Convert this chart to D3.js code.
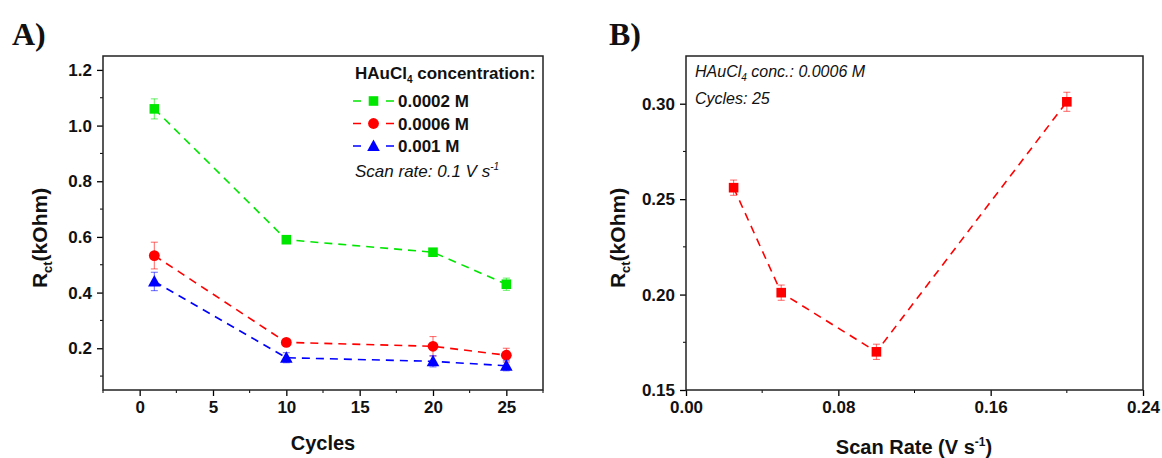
<!DOCTYPE html>
<html>
<head>
<meta charset="utf-8">
<script src="https://cdn.jsdelivr.net/npm/d3@7"></script>
<style>
  html, body { margin: 0; padding: 0; background: #fff; }
  svg { display: block; font-family: "Liberation Sans", Arial, sans-serif; }
</style>
</head>
<body>
<svg id="chart" width="1162" height="458"></svg>
<script>
// Panel A: charge-transfer resistance vs. number of deposition cycles
const cycles = [1, 10, 20, 25];
const rct0002 = [1.06, 0.59, 0.545, 0.43];
const err0002 = [0.036, 0.01, 0.01, 0.022];
const rct0006 = [0.533, 0.221, 0.207, 0.175];
const err0006 = [0.048, 0.01, 0.035, 0.025];
const rct001 = [0.44, 0.166, 0.153, 0.137];
const err001 = [0.033, 0.018, 0.02, 0.018];
const seriesNames = ["0.0002 M", "0.0006 M", "0.001 M"];

// Panel B: charge-transfer resistance vs. scan rate
const scanRates = [0.025, 0.05, 0.1, 0.2];
const rctScan = [0.256, 0.201, 0.170, 0.301];
const errScan = [0.004, 0.004, 0.004, 0.005];

// Tick values
const ticksAx = [0, 5, 10, 15, 20, 25];
const minorAx = [-2.5, 2.5, 7.5, 12.5, 17.5, 22.5, 27.5];
const ticksAy = [0.2, 0.4, 0.6, 0.8, 1.0, 1.2];
const minorAy = [0.1, 0.3, 0.5, 0.7, 0.9, 1.1];
const ticksBx = [0.00, 0.08, 0.16, 0.24];
const minorBx = [0.04, 0.12, 0.20];
const ticksBy = [0.15, 0.20, 0.25, 0.30];
const minorBy = [0.175, 0.225, 0.275];

const GREEN = "#00e600", RED = "#ff0000", BLUE = "#0000ff";
const svg = d3.select("#chart");

function frameAxes(g, x, y, xt, xm, yt, ym, xfmt, yfmt) {
  const [x0, x1] = x.range();
  const [y0, y1] = y.range();
  const xa = g.append("g").attr("transform", `translate(0,${y0})`)
    .call(d3.axisBottom(x).tickValues(xt).tickFormat(xfmt).tickSize(6).tickSizeOuter(0).tickPadding(5));
  xa.append("g").selectAll("line").data(xm).join("line")
    .attr("x1", d => x(d)).attr("x2", d => x(d)).attr("y1", 0).attr("y2", 3).attr("stroke", "#000");
  const ya = g.append("g").attr("transform", `translate(${x0},0)`)
    .call(d3.axisLeft(y).tickValues(yt).tickFormat(yfmt).tickSize(6).tickSizeOuter(0).tickPadding(5));
  ya.append("g").selectAll("line").data(ym).join("line")
    .attr("y1", d => y(d)).attr("y2", d => y(d)).attr("x1", 0).attr("x2", -3).attr("stroke", "#000");
  [xa, ya].forEach(a => {
    a.select(".domain").remove();
    a.selectAll(".tick line").attr("stroke", "#000").attr("stroke-width", 1.3);
    a.selectAll(".tick text").attr("font-size", 17).attr("font-weight", "bold")
      .attr("font-family", '"Liberation Sans", Arial, sans-serif').attr("fill", "#111");
  });
  g.append("rect").attr("x", x0).attr("y", y1).attr("width", x1 - x0).attr("height", y0 - y1)
    .attr("fill", "none").attr("stroke", "#222").attr("stroke-width", 1.5);
}

function marker(g, shape, cx, cy, color) {
  if (shape === "square") {
    g.append("rect").attr("x", cx - 4.8).attr("y", cy - 4.8).attr("width", 9.6).attr("height", 9.6).attr("fill", color);
  } else if (shape === "circle") {
    g.append("circle").attr("cx", cx).attr("cy", cy).attr("r", 5.4).attr("fill", color);
  } else {
    g.append("path").attr("d", `M${cx},${cy - 6.5} L${cx + 6.3},${cy + 5} L${cx - 6.3},${cy + 5} Z`).attr("fill", color);
  }
}

function drawSeries(g, x, y, xs, ys, es, color, shape) {
  const line = d3.line().x((d, i) => x(xs[i])).y(d => y(d));
  g.append("path").datum(ys).attr("d", line).attr("fill", "none")
    .attr("stroke", color).attr("stroke-width", 1.6).attr("stroke-dasharray", "8,6");
  ys.forEach((v, i) => {
    const cx = x(xs[i]);
    const eg = g.append("g").attr("stroke", color).attr("stroke-opacity", 0.55).attr("stroke-width", 1.1);
    eg.append("line").attr("x1", cx).attr("x2", cx).attr("y1", y(v - es[i])).attr("y2", y(v + es[i]));
    eg.append("line").attr("x1", cx - 3.5).attr("x2", cx + 3.5).attr("y1", y(v + es[i])).attr("y2", y(v + es[i]));
    eg.append("line").attr("x1", cx - 3.5).attr("x2", cx + 3.5).attr("y1", y(v - es[i])).attr("y2", y(v - es[i]));
  });
  ys.forEach((v, i) => marker(g, shape, x(xs[i]), y(v), color));
}

function yLabel(g, cx, cy) {
  const t = g.append("text").attr("transform", `translate(${cx},${cy}) rotate(-90)`)
    .attr("text-anchor", "middle").attr("font-size", 21).attr("font-weight", "bold").attr("fill", "#111");
  t.append("tspan").text("R");
  t.append("tspan").attr("font-size", 13).attr("dy", 5).text("ct");
  t.append("tspan").attr("dy", -5).text("(kOhm)");
}

// ---------- Panel A ----------
const gA = svg.append("g");
const xA = d3.scaleLinear().domain([-2.5, 27.5]).range([103, 543]);
const yA = d3.scaleLinear().domain([0.05, 1.25]).range([390, 56]);
frameAxes(gA, xA, yA, ticksAx, minorAx, ticksAy, minorAy, d3.format("d"), d3.format(".1f"));

drawSeries(gA, xA, yA, cycles, rct0002, err0002, GREEN, "square");
drawSeries(gA, xA, yA, cycles, rct0006, err0006, RED, "circle");
drawSeries(gA, xA, yA, cycles, rct001, err001, BLUE, "triangle");

gA.append("text").attr("x", 12).attr("y", 45).attr("font-family", '"Liberation Serif", "Times New Roman", serif')
  .attr("font-weight", "bold").attr("font-size", 32).attr("fill", "#111").text("A)");
yLabel(gA, 47, 238);
gA.append("text").attr("x", 323).attr("y", 450).attr("text-anchor", "middle")
  .attr("font-size", 20).attr("font-weight", "bold").attr("fill", "#111").text("Cycles");

// Legend
const lg = gA.append("g");
const title = lg.append("text").attr("x", 355).attr("y", 79).attr("font-size", 17).attr("font-weight", "bold").attr("fill", "#111");
title.append("tspan").text("HAuCl");
title.append("tspan").attr("font-size", 10).attr("dy", 4).text("4");
title.append("tspan").attr("dy", -4).text(" concentration:");
const legColors = [GREEN, RED, BLUE];
const legShapes = ["square", "circle", "triangle"];
seriesNames.forEach((name, i) => {
  const cy = 101 + i * 22.5;
  lg.append("line").attr("x1", 353).attr("x2", 394).attr("y1", cy).attr("y2", cy)
    .attr("stroke", legColors[i]).attr("stroke-width", 1.6).attr("stroke-dasharray", "8,25");
  marker(lg, legShapes[i], 373.5, cy, legColors[i]);
  lg.append("text").attr("x", 398).attr("y", cy + 6).attr("font-size", 17).attr("font-weight", "bold")
    .attr("fill", "#111").text(name);
});
const sr = lg.append("text").attr("x", 355).attr("y", 177).attr("font-size", 17).attr("font-style", "italic").attr("fill", "#111");
sr.append("tspan").text("Scan rate: 0.1 V s");
sr.append("tspan").attr("font-size", 10).attr("dy", -7).text("-1");

// ---------- Panel B ----------
const gB = svg.append("g");
const xB = d3.scaleLinear().domain([0, 0.24]).range([686, 1143]);
const yB = d3.scaleLinear().domain([0.15, 0.325]).range([390, 56]);
frameAxes(gB, xB, yB, ticksBx, minorBx, ticksBy, minorBy, d3.format(".2f"), d3.format(".2f"));

drawSeries(gB, xB, yB, scanRates, rctScan, errScan, RED, "square");

gB.append("text").attr("x", 609).attr("y", 45).attr("font-family", '"Liberation Serif", "Times New Roman", serif')
  .attr("font-weight", "bold").attr("font-size", 32).attr("fill", "#111").text("B)");
yLabel(gB, 625, 238);
const sl = gB.append("text").attr("x", 914).attr("y", 454).attr("text-anchor", "middle")
  .attr("font-size", 20).attr("font-weight", "bold").attr("fill", "#111");
sl.append("tspan").text("Scan Rate (V s");
sl.append("tspan").attr("font-size", 12).attr("dy", -8).text("-1");
sl.append("tspan").attr("dy", 8).text(")");

const ann = gB.append("text").attr("x", 695).attr("y", 77).attr("font-size", 16).attr("font-style", "italic").attr("fill", "#111");
ann.append("tspan").text("HAuCl");
ann.append("tspan").attr("font-size", 10).attr("dy", 4).text("4");
ann.append("tspan").attr("dy", -4).text(" conc.: 0.0006 M");
gB.append("text").attr("x", 695).attr("y", 104).attr("font-size", 16).attr("font-style", "italic")
  .attr("fill", "#111").text("Cycles: 25");
</script>
</body>
</html>
